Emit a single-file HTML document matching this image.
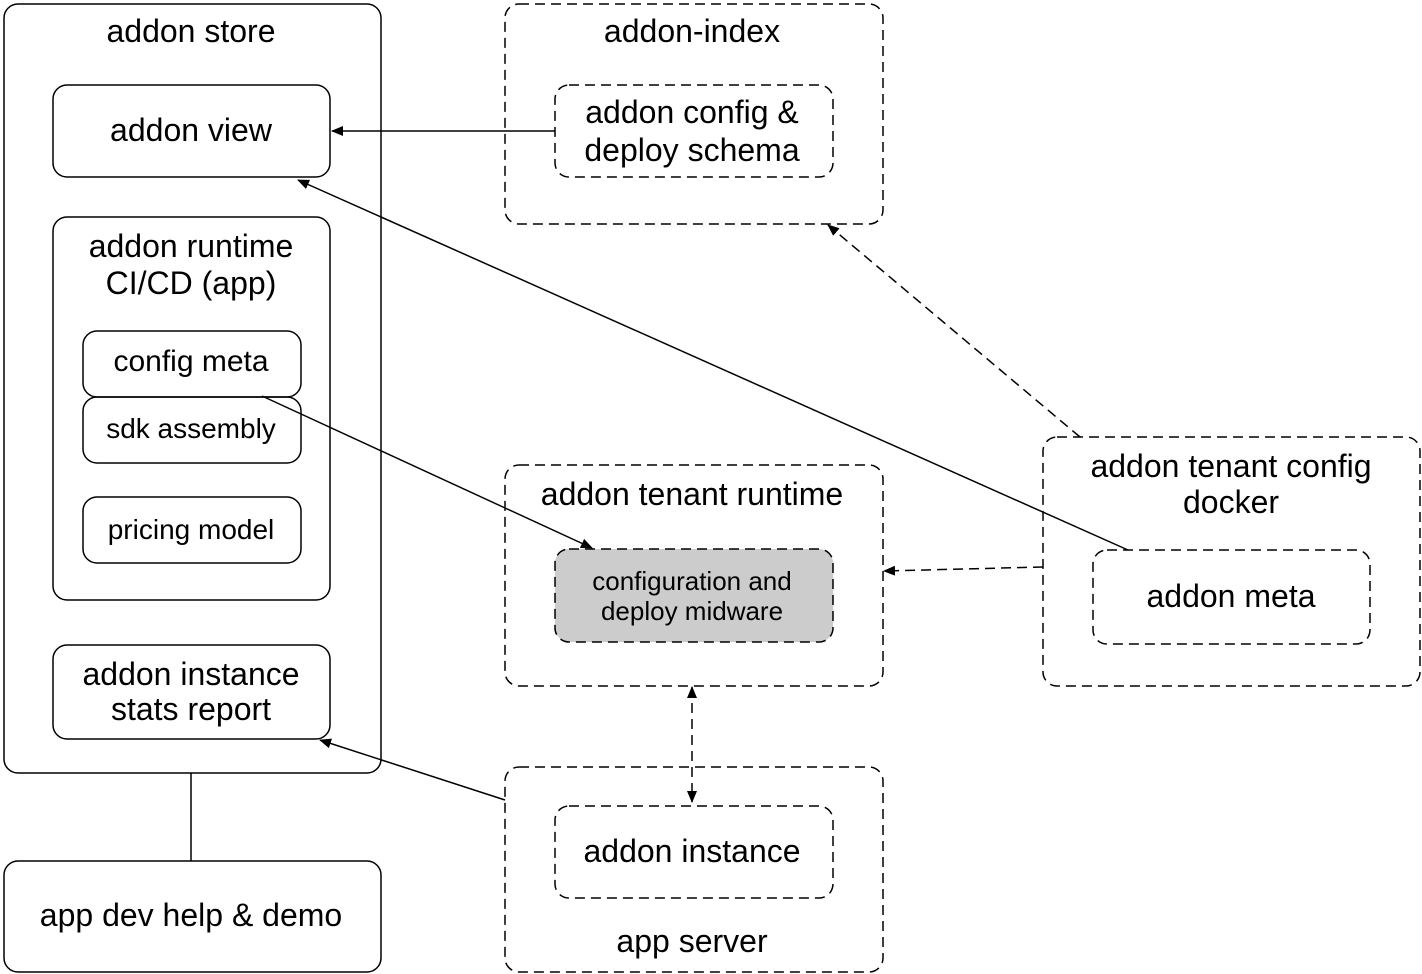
<!DOCTYPE html>
<html><head><meta charset="utf-8"><style>
html,body{margin:0;padding:0;background:#fff;}
svg{display:block;}
text{font-family:"Liberation Sans",Arial,sans-serif;fill:#000;text-anchor:middle;}
</style></head><body>
<svg width="1422" height="974" viewBox="0 0 1422 974" xmlns="http://www.w3.org/2000/svg">
<defs>
<marker id="ah" markerWidth="12" markerHeight="12" refX="11" refY="6" orient="auto" markerUnits="userSpaceOnUse">
<path d="M0,1 L12,6 L0,11 Z" fill="#000"/>
</marker>
<marker id="ahs" markerWidth="12" markerHeight="12" refX="1" refY="6" orient="auto" markerUnits="userSpaceOnUse">
<path d="M12,1 L0,6 L12,11 Z" fill="#000"/>
</marker>
</defs>
<g fill="none" stroke="#000" stroke-width="1.5">
<rect x="4" y="4" width="377" height="769" rx="14"/>
<rect x="53" y="85" width="277" height="92" rx="14"/>
<rect x="53" y="217" width="277" height="383" rx="14"/>
<rect x="83" y="331" width="218" height="66" rx="14"/>
<rect x="83" y="397" width="218" height="66" rx="14"/>
<rect x="83" y="497" width="218" height="66" rx="14"/>
<rect x="53" y="645" width="277" height="94" rx="14"/>
<rect x="4" y="861" width="377" height="111" rx="14"/>
<line x1="191" y1="773" x2="191" y2="861"/>
<g stroke-dasharray="10,6">
<rect x="505" y="4" width="378" height="220" rx="14"/>
<rect x="555" y="85" width="278" height="92" rx="14"/>
<rect x="505" y="465" width="378" height="221" rx="14"/>
<rect x="555" y="549" width="278" height="93" rx="14" fill="#cccccc"/>
<rect x="505" y="767" width="378" height="205" rx="14"/>
<rect x="555" y="806" width="278" height="92" rx="14"/>
<rect x="1043" y="437" width="377" height="249" rx="14"/>
<rect x="1093" y="550" width="277" height="94" rx="14"/>
</g>
<line x1="555" y1="131" x2="332" y2="131" marker-end="url(#ah)"/>
<line x1="1128" y1="550" x2="298" y2="180" marker-end="url(#ah)"/>
<line x1="262" y1="396" x2="592" y2="548" marker-end="url(#ah)"/>
<line x1="505" y1="800" x2="320" y2="740" marker-end="url(#ah)"/>
<g stroke-dasharray="10,6">
<line x1="1080" y1="437" x2="828" y2="225" marker-end="url(#ah)"/>
<line x1="1043" y1="567" x2="884" y2="571" marker-end="url(#ah)"/>
<line x1="692" y1="687" x2="692" y2="802" marker-start="url(#ahs)" marker-end="url(#ah)"/>
</g>
</g>
<g font-size="32">
<text x="191" y="42">addon store</text>
<text x="191" y="141">addon view</text>
<text x="191" y="257">addon runtime</text>
<text x="191" y="294">CI/CD (app)</text>
<text x="191" y="371" font-size="30">config meta</text>
<text x="191" y="438" font-size="28">sdk assembly</text>
<text x="191" y="539" font-size="28">pricing model</text>
<text x="191" y="685">addon instance</text>
<text x="191" y="720">stats report</text>
<text x="191" y="926">app dev help &amp; demo</text>
<text x="692" y="42">addon-index</text>
<text x="692" y="123">addon config &amp;</text>
<text x="692" y="161">deploy schema</text>
<text x="692" y="505">addon tenant runtime</text>
<text x="692" y="590" font-size="26">configuration and</text>
<text x="692" y="620" font-size="26">deploy midware</text>
<text x="692" y="862">addon instance</text>
<text x="692" y="952">app server</text>
<text x="1231" y="477">addon tenant config</text>
<text x="1231" y="513">docker</text>
<text x="1231" y="607">addon meta</text>
</g>
</svg>
</body></html>
